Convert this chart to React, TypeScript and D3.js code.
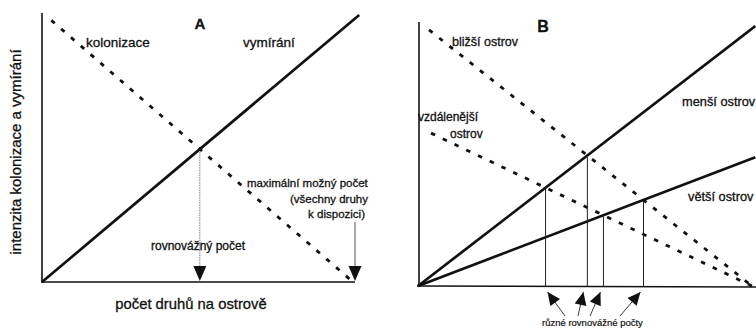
import React from "react";
import * as d3 from "d3";

const W = 756;
const H = 330;

type Pt = [number, number];

// Panel A: rates (relative units) against number of species on the island
// (in % of the mainland species pool).
const aExtinction: Pt[] = [[0, 0], [102, 100]];
const aColonization: Pt[] = [[3, 98], [100, 0]];
const aPool = 100; // maximum possible number of species (whole pool)

// Panel B: near / far island colonization, small / large island extinction.
const bExtinctionSmall: Pt[] = [[0, 0], [101, 100]];
const bExtinctionLarge: Pt[] = [[0, 0], [101, 49.5]];
const bColonizationNear: Pt[] = [[3.3, 98.5], [100, 0]];
const bColonizationFar: Pt[] = [[3.9, 58.8], [100, 0]];

const FONT = "'Liberation Sans', Arial, Helvetica, sans-serif";

// Intersection of two straight lines, each given by two points.
function intersect(a: Pt[], b: Pt[]): Pt {
  const [[x1, y1], [x2, y2]] = a;
  const [[x3, y3], [x4, y4]] = b;
  const d = (x1 - x2) * (y3 - y4) - (y1 - y2) * (x3 - x4);
  const t = ((x1 - x3) * (y3 - y4) - (y1 - y3) * (x3 - x4)) / d;
  return [x1 + t * (x2 - x1), y1 + t * (y2 - y1)];
}

// Filled arrow head whose tip sits at (tx, ty), pointing away from (fx, fy).
function arrowHead(fx: number, fy: number, tx: number, ty: number, len = 12, half = 5.5) {
  const ang = Math.atan2(ty - fy, tx - fx);
  const bx = tx - len * Math.cos(ang);
  const by = ty - len * Math.sin(ang);
  const px = -Math.sin(ang) * half;
  const py = Math.cos(ang) * half;
  return `M${tx},${ty}L${bx + px},${by + py}L${bx - px},${by - py}Z`;
}

export default function App() {
  // Panel A scales
  const xA = d3.scaleLinear().domain([0, 100]).range([42, 353]);
  const yA = d3.scaleLinear().domain([0, 100]).range([282, 15]);
  const lineA = d3.line<Pt>().x((d) => xA(d[0])).y((d) => yA(d[1]));

  // Panel B scales
  const xB = d3.scaleLinear().domain([0, 100]).range([418, 752]);
  const yB = d3.scaleLinear().domain([0, 100]).range([286, 26]);
  const lineB = d3.line<Pt>().x((d) => xB(d[0])).y((d) => yB(d[1]));

  const eqA = intersect(aExtinction, aColonization);
  const eqAx = xA(eqA[0]);
  const eqAy = yA(eqA[1]);
  const poolX = xA(aPool) + 2;

  const eqB = [
    intersect(bExtinctionSmall, bColonizationFar),
    intersect(bExtinctionSmall, bColonizationNear),
    intersect(bExtinctionLarge, bColonizationFar),
    intersect(bExtinctionLarge, bColonizationNear),
  ];

  const solid = { stroke: "#111", strokeWidth: 2.7, fill: "none" };
  const dashed = { stroke: "#111", strokeWidth: 2.8, fill: "none", strokeDasharray: "4.5 8.5" };
  const txt = {
    fontFamily: FONT,
    fill: "#111",
    stroke: "#111",
    strokeWidth: 0.3,
  };

  // label of the equilibrium arrows in panel B
  const labelX = 542;
  const labelY = 326;
  const tailOffsets = [23, 36, 48, 78];
  const tipOffsets = [2, -4, -3, -3];

  return (
    <svg
      width={W}
      height={H}
      viewBox={`0 0 ${W} ${H}`}
      style={{ position: "absolute", left: 0, top: 0, background: "#fff" }}
    >
      <rect width={W} height={H} fill="#fff" />

      {/* ---------- Panel A ---------- */}
      <g>
        <line x1={xA(0)} y1={13} x2={xA(0)} y2={yA(0) + 1} stroke="#111" strokeWidth={1.6} />
        <line x1={xA(0)} y1={yA(0)} x2={poolX} y2={yA(0)} stroke="#111" strokeWidth={1.6} />

        <path d={lineA(aColonization) ?? ""} {...dashed} />
        <path d={lineA(aExtinction) ?? ""} {...solid} />

        {/* equilibrium number */}
        <line x1={eqAx} y1={eqAy + 3} x2={eqAx} y2={267} stroke="#777" strokeWidth={1} strokeDasharray="1.5 1" />
        <path d={arrowHead(eqAx, 250, eqAx, 281, 15, 6.5)} fill="#111" />

        {/* maximum possible number */}
        <line x1={poolX} y1={222} x2={poolX} y2={267} stroke="#555" strokeWidth={1} />
        <path d={arrowHead(poolX, 250, poolX, 281, 15, 6.5)} fill="#111" />

        <text x={200} y={29} textAnchor="middle" fontSize={15} fontWeight="bold" {...txt}>A</text>
        <text x={86} y={47} fontSize={13.5} {...txt}>kolonizace</text>
        <text x={243} y={47} fontSize={13.5} {...txt}>vymírání</text>

        <text x={247} y={187} fontSize={11.5} {...txt}>maximální možný počet</text>
        <text x={368} y={203} fontSize={11.5} textAnchor="end" {...txt}>(všechny druhy</text>
        <text x={365} y={218} fontSize={11.5} textAnchor="end" {...txt}>k dispozici)</text>

        <text x={151} y={250} fontSize={12} {...txt}>rovnovážný počet</text>

        <text x={191} y={309} textAnchor="middle" fontSize={14.8} {...txt}>počet druhů na ostrově</text>
        <text
          transform="translate(21,152) rotate(-90)"
          textAnchor="middle"
          fontSize={15}
          {...txt}
        >
          intenzita kolonizace a vymírání
        </text>
      </g>

      {/* ---------- Panel B ---------- */}
      <g>
        <line x1={419} y1={22} x2={419} y2={yB(0)} stroke="#111" strokeWidth={1.6} />
        <line x1={xB(0) - 1} y1={yB(0)} x2={W} y2={yB(0) + 1} stroke="#111" strokeWidth={1.6} />

        <path d={lineB(bColonizationNear) ?? ""} {...dashed} />
        <path d={lineB(bColonizationFar) ?? ""} {...dashed} />
        <path d={lineB(bExtinctionSmall) ?? ""} {...solid} />
        <path d={lineB(bExtinctionLarge) ?? ""} {...solid} />

        {eqB.map((p, i) => (
          <line
            key={i}
            x1={xB(p[0])}
            y1={yB(p[1]) + 1}
            x2={xB(p[0])}
            y2={yB(0)}
            stroke="#222"
            strokeWidth={1}
          />
        ))}

        {eqB.map((p, i) => {
          const tx = xB(p[0]) + tipOffsets[i];
          const ty = yB(0) + 6;
          const fx = labelX + tailOffsets[i];
          const fy = labelY - 10;
          return (
            <g key={i}>
              <line x1={fx} y1={fy} x2={tx} y2={ty} stroke="#222" strokeWidth={0.9} />
              <path d={arrowHead(fx, fy, tx, ty, 13, 6)} fill="#111" />
            </g>
          );
        })}

        <text x={543} y={32} textAnchor="middle" fontSize={16} fontWeight="bold" {...txt}>B</text>
        <text x={452} y={46} fontSize={12.5} {...txt}>bližší ostrov</text>
        <text x={418} y={121} fontSize={12} {...txt}>vzdálenější</text>
        <text x={450} y={138} fontSize={12} {...txt}>ostrov</text>
        <text x={682} y={106} fontSize={12.8} {...txt}>menší ostrov</text>
        <text x={688} y={201} fontSize={12.8} {...txt}>větší ostrov</text>
        <text x={labelX} y={labelY} fontSize={9.5} {...txt} strokeWidth={0.2}>různé rovnovážné počty</text>
      </g>
    </svg>
  );
}
